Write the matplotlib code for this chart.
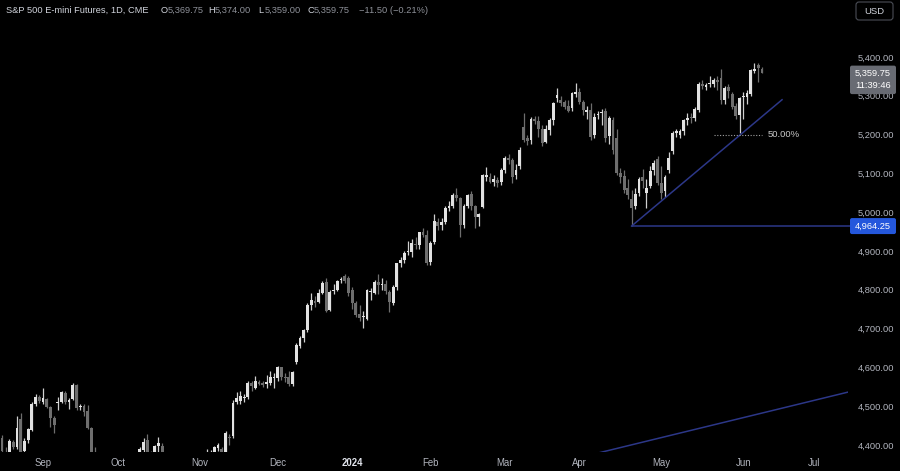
import matplotlib
matplotlib.use("Agg")
import matplotlib.pyplot as plt
from matplotlib.patches import FancyBboxPatch
import numpy as np
import pandas as pd

plt.rcParams['font.family'] = ['Liberation Sans', 'DejaVu Sans']

# ---------------- data ----------------
start_date = '2023-08-17'
end_date = '2024-06-10'
future_end = '2024-07-31'
holidays = ['2023-09-04', '2023-11-23', '2023-12-25', '2024-01-01', '2024-01-15',
            '2024-02-19', '2024-03-29', '2024-05-27', '2024-06-19', '2024-07-04']

opens = [
    4418, 4380, 4380, 4408, 4395, 4467, 4385, 4413, 4439, 4506, 4524,
    4512, 4518, 4498, 4470, 4508, 4511, 4535, 4512, 4519, 4555, 4498, 4500, 4487, 4444, 4370, 4345, 4362, 4302, 4305, 4335,
    4320, 4315, 4262, 4295, 4282, 4325, 4374, 4388, 4414, 4378, 4350, 4397, 4398, 4350, 4315, 4255, 4250, 4272, 4215, 4160, 4142, 4190,
    4210, 4262, 4330, 4370, 4378, 4393, 4390, 4350, 4420, 4424, 4511, 4513, 4521, 4523, 4561, 4548, 4563, 4560, 4556, 4560, 4572,
    4572, 4600, 4573, 4576, 4556, 4615, 4655, 4676, 4696, 4761, 4770, 4769, 4792, 4820, 4748, 4798, 4800, 4824, 4835, 4830,
    4800, 4765, 4738, 4731, 4726, 4795, 4793, 4821, 4812, 4815, 4795, 4766, 4808, 4868, 4877, 4898, 4898, 4918, 4915, 4948, 4940,
    4872, 4922, 4976, 4966, 4975, 5010, 5015, 5045, 5037, 4968, 5015, 5048, 5015, 4988, 5013, 5092, 5092, 5078, 5082, 5078,
    5108, 5140, 5135, 5095, 5118, 5220, 5190, 5185, 5240, 5236, 5215, 5180, 5212, 5238, 5294, 5290, 5283, 5275, 5268, 5305,
    5310, 5285, 5258, 5263, 5199, 5250, 5255, 5262, 5196, 5238, 5190, 5100, 5093, 5063, 5035, 5015, 5050, 5090, 5050, 5068, 5108, 5138,
    5075, 5055, 5110, 5158, 5203, 5200, 5210, 5238, 5245, 5243, 5263, 5330, 5323, 5330, 5330, 5342, 5345, 5288, 5322, 5305, 5275, 5250,
    5296, 5298, 5305, 5365, 5380, 5369.75,
]
highs = [
    4425, 4395, 4415, 4412, 4475, 4482, 4418, 4445, 4510, 4531, 4530,
    4547, 4522, 4500, 4475, 4524, 4540, 4540, 4522, 4560, 4558, 4505, 4505, 4503, 4446, 4395, 4370, 4365, 4325, 4340, 4370,
    4340, 4320, 4300, 4305, 4345, 4378, 4395, 4418, 4428, 4385, 4400, 4421, 4405, 4375, 4320, 4290, 4285, 4275, 4235, 4185, 4195, 4215,
    4265, 4335, 4390, 4386, 4398, 4405, 4395, 4435, 4428, 4516, 4537, 4538, 4531, 4565, 4564, 4578, 4568, 4565, 4580, 4590, 4585,
    4603, 4602, 4585, 4590, 4592, 4662, 4680, 4700, 4765, 4792, 4785, 4802, 4822, 4830, 4800, 4815, 4825, 4832, 4842, 4836,
    4806, 4770, 4760, 4745, 4803, 4805, 4825, 4840, 4830, 4825, 4800, 4812, 4870, 4885, 4900, 4925, 4930, 4935, 4950, 4960, 4955,
    4925, 4995, 4985, 4985, 5015, 5030, 5050, 5062, 5040, 5020, 5048, 5055, 5018, 4998, 5098, 5117, 5100, 5095, 5090, 5115,
    5145, 5150, 5140, 5125, 5168, 5256, 5200, 5245, 5248, 5248, 5225, 5225, 5242, 5285, 5320, 5300, 5290, 5290, 5310, 5333,
    5320, 5290, 5275, 5282, 5255, 5262, 5265, 5268, 5248, 5245, 5215, 5115, 5110, 5085, 5058, 5062, 5092, 5112, 5085, 5118, 5135, 5145,
    5120, 5095, 5155, 5208, 5215, 5215, 5240, 5255, 5255, 5270, 5335, 5340, 5332, 5350, 5345, 5352, 5368, 5325, 5330, 5310, 5282, 5298,
    5310, 5315, 5370, 5385, 5385, 5374,
]
lows = [
    4375, 4355, 4370, 4390, 4390, 4370, 4358, 4405, 4435, 4500, 4508,
    4505, 4495, 4446, 4431, 4490, 4508, 4505, 4492, 4515, 4490, 4490, 4475, 4440, 4365, 4340, 4325, 4295, 4280, 4290, 4310,
    4290, 4255, 4250, 4265, 4235, 4315, 4368, 4380, 4360, 4335, 4345, 4370, 4340, 4305, 4250, 4225, 4245, 4210, 4155, 4130, 4140, 4170,
    4195, 4260, 4325, 4360, 4365, 4385, 4340, 4345, 4400, 4418, 4506, 4505, 4512, 4518, 4540, 4545, 4555, 4550, 4548, 4555, 4548,
    4565, 4568, 4563, 4552, 4552, 4610, 4650, 4665, 4690, 4748, 4755, 4765, 4789, 4742, 4745, 4790, 4798, 4818, 4818, 4785,
    4750, 4730, 4720, 4701, 4722, 4775, 4788, 4790, 4800, 4790, 4744, 4760, 4800, 4860, 4870, 4890, 4885, 4905, 4905, 4935, 4865,
    4865, 4918, 4955, 4955, 4970, 5002, 5010, 5030, 4936, 4960, 5010, 5005, 4960, 4965, 5010, 5080, 5075, 5068, 5065, 5070,
    5100, 5125, 5075, 5085, 5112, 5180, 5172, 5175, 5228, 5195, 5170, 5178, 5200, 5225, 5285, 5275, 5265, 5258, 5260, 5298,
    5280, 5250, 5240, 5185, 5190, 5240, 5225, 5180, 5175, 5150, 5095, 5075, 5050, 5035, 4964.25, 5008, 5042, 5062, 5012, 5062, 5095, 5070,
    5035, 5040, 5100, 5150, 5195, 5190, 5200, 5225, 5230, 5235, 5258, 5318, 5315, 5322, 5322, 5315, 5280, 5280, 5295, 5265, 5240, 5204,
    5240, 5280, 5300, 5358, 5336, 5359,
]
closes = [
    4385, 4372, 4410, 4396, 4444, 4380, 4410, 4441, 4506, 4524, 4514,
    4520, 4498, 4470, 4452, 4510, 4537, 4511, 4516, 4555, 4495, 4500, 4485, 4444, 4375, 4350, 4365, 4300, 4305, 4330, 4320,
    4318, 4260, 4295, 4285, 4335, 4373, 4390, 4408, 4375, 4345, 4397, 4405, 4350, 4315, 4255, 4250, 4275, 4215, 4160, 4140, 4190, 4210,
    4260, 4330, 4370, 4380, 4395, 4400, 4350, 4431, 4418, 4508, 4520, 4525, 4523, 4560, 4551, 4566, 4558, 4555, 4562, 4576, 4576,
    4600, 4574, 4572, 4558, 4589, 4658, 4676, 4696, 4761, 4774, 4767, 4792, 4817, 4746, 4795, 4800, 4823, 4829, 4822, 4792,
    4765, 4735, 4728, 4733, 4800, 4795, 4821, 4812, 4815, 4797, 4768, 4808, 4868, 4877, 4894, 4899, 4920, 4915, 4948, 4940, 4870,
    4921, 4978, 4965, 4975, 5011, 5016, 5045, 5037, 4967, 5015, 5044, 5015, 4988, 4996, 5096, 5096, 5078, 5086, 5075, 5108,
    5140, 5135, 5090, 5110, 5160, 5186, 5183, 5240, 5235, 5214, 5178, 5215, 5238, 5282, 5301, 5282, 5270, 5262, 5306, 5310,
    5284, 5263, 5263, 5194, 5245, 5252, 5258, 5192, 5243, 5160, 5101, 5092, 5057, 5044, 5010, 5048, 5086, 5080, 5062, 5105, 5128, 5075,
    5050, 5090, 5140, 5203, 5208, 5210, 5238, 5243, 5243, 5266, 5330, 5324, 5328, 5333, 5342, 5335, 5288, 5320, 5312, 5272, 5248, 5294,
    5298, 5307, 5366, 5368, 5371.25, 5359.75,
]

price_ticks = [4400, 4500, 4600, 4700, 4800, 4900, 5000, 5100, 5200, 5300, 5400]

# drawings
support_level = 4964.25
support_start = '2024-04-19'
trend_anchor1 = ('2024-04-19', 4964.25)
trend_anchor2 = ('2024-05-31', 5198.0)
trend_extend_bars = 5.4
long_trend_anchor1 = ('2023-10-27', 4122.0)
long_trend_anchor2 = ('2024-04-10', 4384.0)
fib_level = 5199.0
fib_start = '2024-05-21'
fib_end = '2024-06-10'
fib_label = '50.00%'
last_price = 5359.75
countdown = '11:39:46'
header_title = 'S&P 500 E-mini Futures, 1D, CME'
header_ohlc = [('O', '5,369.75'), ('H', '5,374.00'), ('L', '5,359.00'), ('C', '5,359.75')]
header_change = '\u221211.50 (\u22120.21%)'

# ---------------- calendar ----------------
dates = pd.bdate_range(start_date, end_date, freq='C', holidays=holidays)
future = pd.bdate_range(pd.Timestamp(end_date) + pd.Timedelta(days=1), future_end, freq='C', holidays=holidays)
all_dates = dates.append(future)
n = min(len(dates), len(opens))
idx_of = {d.strftime('%Y-%m-%d'): i for i, d in enumerate(all_dates)}

o = np.array(opens[:n], float); h = np.array(highs[:n], float)
l = np.array(lows[:n], float); c = np.array(closes[:n], float)
x = np.arange(n)

# ---------------- figure ----------------
W, H = 900, 471
fig = plt.figure(figsize=(9, 4.71), dpi=100, facecolor='black')
plot_right, plot_bottom = 848, 452
ax = fig.add_axes([0, (H - plot_bottom) / H, plot_right / W, plot_bottom / H])
ax.set_facecolor('black')
for s in ax.spines.values():
    s.set_visible(False)

bar_px = 3.725
sep1 = idx_of['2023-09-01']
ax.set_xlim(sep1 - 43 / bar_px, sep1 + (plot_right - 43) / bar_px)
px_per_pt = 0.388
ax.set_ylim(5400 - (plot_bottom - 57) / px_per_pt, 5400 + 57 / px_per_pt)

up = c >= o
up_col, dn_col = '#e2e2e2', '#6e6e6e'
up_wick, dn_wick = '#cfcfcf', '#6e6e6e'
body_bot = np.minimum(o, c)
body_h = np.maximum(np.abs(c - o), 2.6)
ax.vlines(x[up], l[up], h[up], color=up_wick, lw=0.9, zorder=2)
ax.vlines(x[~up], l[~up], h[~up], color=dn_wick, lw=0.9, zorder=2)
ax.bar(x[up], body_h[up], bottom=body_bot[up], width=0.76, color=up_col, linewidth=0, zorder=3)
ax.bar(x[~up], body_h[~up], bottom=body_bot[~up], width=0.76, color=dn_col, linewidth=0, zorder=3)

line_col = '#2c3788'
xr = ax.get_xlim()[1]
# horizontal support
ax.hlines(support_level, idx_of[support_start], xr + 1, color=line_col, lw=1.1, zorder=4, clip_on=False)
# rising trend line
ta, tb = idx_of[trend_anchor1[0]], idx_of[trend_anchor2[0]]
slope = (trend_anchor2[1] - trend_anchor1[1]) / (tb - ta)
te = n - 1 + trend_extend_bars
ax.plot([ta, te], [trend_anchor1[1], trend_anchor1[1] + slope * (te - ta)], color=line_col, lw=1.1, zorder=4)
# long trend line (clipped to the plot)
la, lb = idx_of[long_trend_anchor1[0]], idx_of[long_trend_anchor2[0]]
lslope = (long_trend_anchor2[1] - long_trend_anchor1[1]) / (lb - la)
le = xr
ax.plot([la, le], [long_trend_anchor1[1], long_trend_anchor1[1] + lslope * (le - la)], color=line_col, lw=1.1, zorder=4)
# fib 50%
fs, fe = idx_of[fib_start], idx_of[fib_end]
ax.plot([fs, fe], [fib_level, fib_level], color='#a0a0a0', lw=0.8, ls=(0, (1, 1.5)), zorder=4)
ax.text(fe + 1.6, fib_level, fib_label, color='#c8c8c8', fontsize=6.8, va='center', ha='left', zorder=5)

# x axis month labels
ticks, labels = [], []
prev_month = all_dates[0].month
for i, d in enumerate(all_dates):
    if i > 0 and d.month != prev_month:
        ticks.append(i)
        labels.append(str(d.year) if d.month == 1 else d.strftime('%b'))
    prev_month = d.month
ax.set_xticks(ticks)
ax.set_xticklabels(labels)
ax.tick_params(axis='x', length=0, pad=4.5, labelcolor='#b2b5be', labelsize=6.9)
for t in ax.get_xticklabels():
    if t.get_text().isdigit():
        t.set_fontweight('bold')
        t.set_color('#e0e3eb')

# y axis
ax.yaxis.tick_right()
ax.set_yticks(price_ticks)
ax.set_yticklabels([f'{p:,.2f}' for p in price_ticks])
ax.tick_params(axis='y', length=0, pad=7.3, labelcolor='#b2b5be', labelsize=6.7)

# price labels on the axis
fig.canvas.draw()
def ypix(price):
    return ax.transData.transform((0, price))[1]

box_x0, box_w = 850, 46
yb = ypix(support_level)
fig.patches.append(FancyBboxPatch((box_x0, yb - 8), box_w, 16, boxstyle='round,pad=0,rounding_size=2',
                                  transform=None, facecolor='#2457dc', edgecolor='none', zorder=5))
fig.text((box_x0 + box_w / 2) / W, yb / H, f'{support_level:,.2f}', color='white', fontsize=6.7,
         ha='center', va='center', zorder=6)

yc = ypix(last_price)
fig.patches.append(FancyBboxPatch((box_x0, yc - 21.5), box_w, 28.5, boxstyle='round,pad=0,rounding_size=2',
                                  transform=None, facecolor='#686b73', edgecolor='none', zorder=5))
fig.text((box_x0 + box_w / 2) / W, (yc - 0.5) / H, f'{last_price:,.2f}', color='white', fontsize=6.7,
         ha='center', va='center', zorder=6)
fig.text((box_x0 + box_w / 2) / W, (yc - 13) / H, countdown, color='white', fontsize=6.7,
         ha='center', va='center', zorder=6)

# USD box
fig.patches.append(FancyBboxPatch((856, H - 20), 37, 18, boxstyle='round,pad=0,rounding_size=3',
                                  transform=None, facecolor='black', edgecolor='#4a4d56', lw=0.8, zorder=5))
fig.text(874.5 / W, 1 - 11 / H, 'USD', color='#d1d4dc', fontsize=6.8, ha='center', va='center', zorder=6)

# header
hy = 1 - 10.5 / H
hfs = 6.7
fig.text(6 / W, hy, header_title, color='#d1d4dc', fontsize=hfs, va='center', ha='left')
hx = [161, 208, 258, 307]
for (lab, val), px in zip(header_ohlc, hx):
    fig.text(px / W, hy, lab, color='#d1d4dc', fontsize=hfs, va='center', ha='left')
    fig.text((px + 6.5) / W, hy, val, color='#8e9199', fontsize=hfs, va='center', ha='left')
fig.text(359 / W, hy, header_change, color='#8e9199', fontsize=hfs, va='center', ha='left')

fig.savefig('out.png', dpi=100, facecolor='black')
